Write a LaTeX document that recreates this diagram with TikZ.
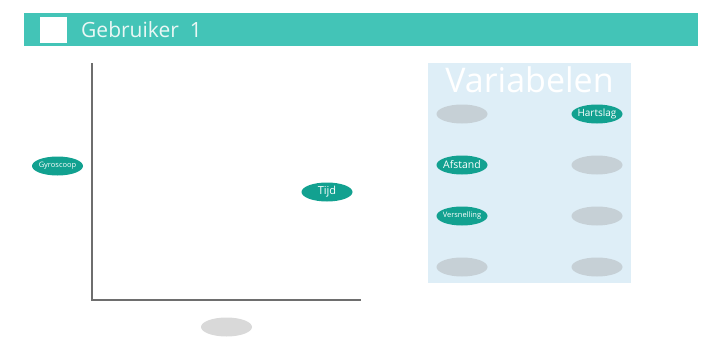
\documentclass[tikz,border=0pt]{standalone}
\usepackage{fontspec}
\setmainfont{Open Sans}
\usetikzlibrary{shapes.geometric}
\definecolor{barteal}{HTML}{43C4B7}
\definecolor{ovteal}{HTML}{12A190}
\definecolor{panelbg}{HTML}{DEEEF7}
\definecolor{panelgray}{HTML}{C6D0D6}
\definecolor{lightgray}{HTML}{D9D9D9}
\definecolor{axisgray}{HTML}{6E6E6E}
\definecolor{headtext}{HTML}{EAF7F5}
\tikzset{
  oval/.style={ellipse, minimum width=51pt, minimum height=19pt, inner sep=0pt},
  active/.style 2 args={oval, fill=ovteal, label={[text=white, inner sep=0pt, font=\fontsize{#1}{#1}\selectfont]center:#2}},
  inactive/.style={oval, fill=panelgray},
  axisline/.style={draw=axisgray, line width=1.3pt}
}
\begin{document}
\begin{tikzpicture}[x=1pt,y=-1pt]
\useasboundingbox (0,0) rectangle (721,349);
% header
\fill[barteal] (24,13) rectangle (698,46);
\fill[white] (40,17) rectangle (67,43);
\node[anchor=west, text=headtext, font=\fontsize{21}{23}\selectfont, inner sep=0pt] (title) at (81,30) {Gebruiker\ \ 1};
% axes
\coordinate (top) at (92,63);
\coordinate (origin) at (92,300);
\coordinate (right) at (361,300);
\draw[axisline] (top) -- (origin) -- (right);
\node[active={7.5}{Gyroscoop}] (gyro) at (57.5,166) {};
\node[active={11}{Tijd}] (tijd) at (327,192) {};
\node[oval, fill=lightgray] (xvar) at (226.5,327) {};
% panel
\fill[panelbg] (428,63) rectangle (631,283);
\node[text=white, font=\fontsize{34}{36}\selectfont, inner sep=0pt] (varh) at (529.5,80) {Variabelen};
\node[inactive] (l1) at (462,114) {};
\node[active={10}{Hartslag}] (r1) at (597,114) {};
\node[active={10.5}{Afstand}] (l2) at (462,165) {};
\node[inactive] (r2) at (597,165) {};
\node[active={7.5}{Versnelling}] (l3) at (462,216) {};
\node[inactive] (r3) at (597,216) {};
\node[inactive] (l4) at (462,267) {};
\node[inactive] (r4) at (597,267) {};
\end{tikzpicture}
\end{document}
